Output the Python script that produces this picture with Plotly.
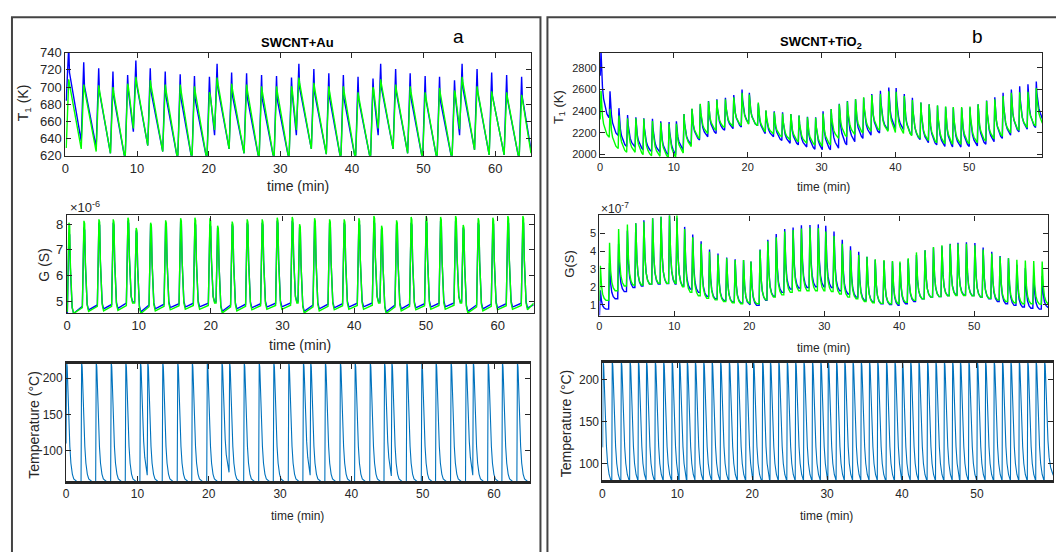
import plotly.graph_objects as go

# ---------------- data ----------------
# Panel a : SWCNT+Au  (time of each T1 peak, min)
AU_T_PEAK_TIME = [0.46, 2.55, 4.64, 6.63, 8.68, 9.83, 11.84, 13.93, 16.02, 18.01,
                  20.10, 21.17, 23.20, 25.29, 27.38, 29.47, 31.56, 32.59, 34.68, 36.77,
                  38.80, 40.85, 42.94, 44.01, 46.10, 48.13, 50.22, 52.23, 54.32, 55.38,
                  57.47, 59.51, 61.60, 63.69]
AU_T1_BLUE_PEAK = [748, 729, 722, 718, 714, 731, 722, 718, 715, 713,
                   712, 727, 717, 716, 714, 713, 711, 727, 721, 716,
                   714, 712, 710, 727, 721, 716, 713, 712, 708, 727,
                   721, 717, 714, 712]
AU_T1_GREEN_PEAK = [709, 703, 702, 700, 704, 712, 708, 703, 703, 701,
                    694, 711, 704, 703, 701, 701, 701, 711, 705, 701,
                    701, 694, 700, 709, 703, 701, 694, 699, 696, 712,
                    701, 695, 694, 691]
# value just before each rise (first = value at t=0, last = value at the right edge)
AU_T1_BLUE_PRE = [685, 637, 630, 623, 615, 648, 632, 625, 615, 615, 615, 644, 628, 623,
                  615, 615, 615, 644, 628, 622, 615, 615, 615, 644, 628, 623, 615, 615,
                  615, 644, 627, 621, 621, 615, 627]
AU_T1_GREEN_PRE = [630, 628, 625, 623, 615, 652, 632, 625, 615, 615, 615, 650, 628, 623,
                   615, 615, 615, 650, 628, 622, 615, 615, 615, 652, 628, 623, 615, 615,
                   615, 651, 627, 621, 621, 615, 623]

AU_G_BLUE_PEAK = [7.68, 7.87, 8.06, 8.06, 8.13, 7.75, 8.00, 8.03, 8.10, 8.06,
                  8.00, 7.85, 8.00, 8.06, 8.06, 8.13, 8.13, 7.87, 8.10, 8.06,
                  8.06, 8.06, 8.13, 7.81, 8.00, 8.06, 8.13, 8.13, 8.13, 7.87,
                  8.06, 8.10, 8.13, 8.15]
AU_G_GREEN_PEAK = [8.06, 8.13, 8.19, 8.19, 8.25, 7.85, 8.06, 8.15, 8.23, 8.25,
                   8.23, 7.94, 8.10, 8.19, 8.19, 8.25, 8.28, 8.00, 8.23, 8.19,
                   8.19, 8.23, 8.32, 7.94, 8.15, 8.28, 8.32, 8.28, 8.32, 7.97,
                   8.23, 8.25, 8.32, 8.32]
AU_G_BLUE_LOW = [4.52, 4.66, 4.70, 4.72, 4.97, 4.58, 4.70, 4.75, 4.77, 4.78,
                 4.97, 4.60, 4.70, 4.74, 4.77, 4.78, 4.97, 4.60, 4.70, 4.74,
                 4.77, 4.78, 4.97, 4.58, 4.70, 4.74, 4.77, 4.78, 4.97, 4.60,
                 4.70, 4.74, 4.77, 4.74]
AU_G_GREEN_LOW = [4.52, 4.60, 4.62, 4.64, 4.93, 4.52, 4.62, 4.66, 4.68, 4.68,
                  4.93, 4.54, 4.62, 4.66, 4.68, 4.68, 4.93, 4.54, 4.62, 4.66,
                  4.68, 4.68, 4.93, 4.52, 4.62, 4.66, 4.68, 4.68, 4.93, 4.54,
                  4.62, 4.66, 4.68, 4.66]
AU_G_BLUE_PRE = [4.55, 4.80, 4.85, 4.87, 4.92, 4.97, 4.85, 4.88, 4.90, 4.92, 4.92, 4.97,
                 4.85, 4.88, 4.90, 4.92, 4.93, 4.97, 4.85, 4.88, 4.90, 4.92, 4.93, 4.97,
                 4.85, 4.88, 4.90, 4.92, 4.93, 4.97, 4.85, 4.88, 4.90, 4.92, 4.85]
AU_G_GREEN_PRE = [4.60, 4.75, 4.80, 4.80, 4.83, 4.93, 4.78, 4.80, 4.82, 4.83, 4.83, 4.93,
                  4.78, 4.80, 4.82, 4.83, 4.84, 4.93, 4.78, 4.80, 4.82, 4.83, 4.84, 4.93,
                  4.78, 4.80, 4.82, 4.83, 4.84, 4.93, 4.78, 4.80, 4.82, 4.83, 4.92]

AU_TEMP_RISE = [0.0, 2.10, 4.15, 6.25, 8.30, 10.35, 11.38, 13.48, 15.58, 17.62,
                19.72, 21.78, 22.85, 24.90, 27.00, 29.05, 31.15, 33.20, 34.22, 36.28,
                38.38, 40.45, 42.57, 44.57, 45.60, 47.70, 49.80, 51.80, 53.90, 56.00,
                57.02, 59.10, 61.10, 63.20]
AU_TEMP_PRE = [110, 56, 56, 56, 56, 56, 66, 56, 56, 56, 56, 56, 70, 56, 56, 56, 56, 56,
               66, 56, 56, 56, 56, 56, 65, 56, 56, 56, 56, 56, 66, 56, 56, 56, 56]
AU_TEMP_MAX = 222

# Panel b : SWCNT+TiO2
TI_PEAK_TIME = [0.13, 1.35, 2.56, 3.73, 4.85, 5.93, 7.10, 8.22, 9.35, 10.34,
                11.37, 12.45, 13.57, 14.69, 15.82, 16.98, 18.11, 19.23, 20.22, 21.43,
                22.47, 23.59, 24.72, 25.84, 26.95, 28.09, 29.20, 30.20, 31.30, 32.40,
                33.50, 34.60, 35.70, 36.80, 37.97, 39.10, 40.10, 41.20, 42.30, 43.45,
                44.57, 45.70, 46.80, 47.84, 48.97, 50.10, 51.20, 52.35, 53.46, 54.58,
                55.70, 56.83, 57.95, 59.08]
TI_T1_BLUE_PEAK = [2960, 2584, 2429, 2366, 2345, 2336, 2330, 2308, 2300, 2308,
                   2375, 2420, 2465, 2495, 2510, 2525, 2550, 2600, 2570, 2470,
                   2405, 2400, 2390, 2375, 2360, 2350, 2345, 2400, 2420, 2470,
                   2495, 2510, 2525, 2560, 2590, 2620, 2615, 2560, 2525, 2480,
                   2465, 2450, 2440, 2435, 2430, 2435, 2465, 2500, 2530, 2570,
                   2600, 2630, 2650, 2675]
TI_T1_GREEN_PEAK = [2590, 2420, 2360, 2336, 2336, 2330, 2310, 2295, 2285, 2285,
                    2375, 2426, 2470, 2490, 2505, 2510, 2530, 2570, 2555, 2480,
                    2410, 2390, 2380, 2375, 2360, 2345, 2340, 2380, 2420, 2465,
                    2490, 2512, 2530, 2550, 2560, 2585, 2580, 2540, 2505, 2480,
                    2465, 2455, 2445, 2440, 2440, 2445, 2465, 2495, 2510, 2540,
                    2570, 2575, 2580, 2615]
TI_T1_BLUE_PRE = [2734, 2345, 2180, 2075, 2069, 2045, 2030, 2020, 2000, 2000,
                  2045, 2090, 2135, 2165, 2195, 2225, 2240, 2255, 2285, 2270,
                  2195, 2165, 2130, 2105, 2090, 2070, 2050, 2045, 2045, 2060,
                  2090, 2120, 2150, 2180, 2200, 2225, 2235, 2230, 2180, 2140,
                  2110, 2090, 2075, 2070, 2070, 2075, 2080, 2095, 2120, 2150,
                  2180, 2210, 2235, 2250, 2330]
TI_T1_GREEN_PRE = [2330, 2165, 2060, 2022, 2022, 2000, 1990, 1985, 1975, 1975,
                   2015, 2075, 2150, 2195, 2225, 2250, 2260, 2270, 2280, 2270,
                   2210, 2190, 2165, 2135, 2120, 2105, 2090, 2075, 2090, 2150,
                   2165, 2185, 2200, 2215, 2225, 2215, 2205, 2195, 2175, 2150,
                   2130, 2110, 2100, 2095, 2095, 2100, 2110, 2125, 2145, 2170,
                   2200, 2225, 2250, 2265, 2290]

TI_G_BLUE_PEAK = [1.80, 3.33, 4.42, 5.15, 5.56, 5.73, 5.84, 5.93, 6.05, 5.87,
                  5.36, 4.93, 4.55, 4.09, 3.87, 3.64, 3.55, 3.50, 3.42, 4.09,
                  4.64, 4.96, 5.24, 5.33, 5.45, 5.47, 5.50, 5.42, 5.10, 4.64,
                  4.27, 3.96, 3.69, 3.51, 3.45, 3.42, 3.33, 3.55, 3.78, 4.05,
                  4.20, 4.27, 4.42, 4.47, 4.50, 4.45, 4.20, 3.96, 3.73, 3.60,
                  3.24, 3.05, 2.78, 2.60]
TI_G_GREEN_PEAK = [3.18, 4.47, 5.24, 5.50, 5.56, 5.65, 5.84, 5.93, 6.05, 6.05,
                   5.24, 4.78, 4.42, 3.96, 3.78, 3.60, 3.50, 3.50, 3.42, 4.05,
                   4.56, 4.78, 5.10, 5.18, 5.27, 5.33, 5.29, 5.10, 4.85, 4.42,
                   4.05, 3.78, 3.69, 3.55, 3.50, 3.45, 3.42, 3.60, 3.93, 4.05,
                   4.23, 4.33, 4.38, 4.42, 4.42, 4.33, 4.09, 3.87, 3.69, 3.60,
                   3.51, 3.47, 3.45, 3.42]
TI_G_BLUE_PRE = [0.40, 0.75, 1.33, 1.73, 1.96, 2.05, 2.15, 2.15, 2.18, 2.15,
                 2.05, 1.87, 1.69, 1.47, 1.33, 1.24, 1.15, 1.10, 1.00, 0.96,
                 1.24, 1.47, 1.69, 1.87, 1.93, 1.96, 2.00, 2.00, 1.96, 1.78,
                 1.60, 1.42, 1.24, 1.15, 1.05, 1.00, 0.96, 1.05, 1.18, 1.33,
                 1.42, 1.45, 1.51, 1.55, 1.55, 1.51, 1.42, 1.33, 1.18, 1.05,
                 0.96, 0.87, 0.80, 0.75, 0.85]
TI_G_GREEN_PRE = [1.20, 1.24, 1.78, 2.05, 2.10, 2.10, 2.15, 2.20, 2.20, 2.20,
                  2.00, 1.69, 1.50, 1.36, 1.27, 1.18, 1.11, 1.05, 1.05, 1.05,
                  1.27, 1.42, 1.55, 1.69, 1.78, 1.78, 1.78, 1.78, 1.74, 1.60,
                  1.42, 1.33, 1.18, 1.11, 1.07, 1.05, 1.05, 1.13, 1.24, 1.33,
                  1.42, 1.45, 1.49, 1.51, 1.51, 1.49, 1.42, 1.36, 1.27, 1.18,
                  1.11, 1.05, 1.05, 1.03, 1.05]
TI_TEMP_START = 120
TI_TEMP_MIN = 77
TI_TEMP_MAX = 222
TI_TEMP_END = 86

# ---------------- cycle shapes ----------------
# (offset after peak in min, fraction of the drop still remaining)
SHAPE_T1_AU_BLUE = ([0, 0.10], [1, 0.72])
SHAPE_T1_AU_GREEN = ([0, 0.10], [1, 0.93])
SHAPE_G_AU = ([0, 0.10, 0.20, 0.32, 0.45, 0.65], [1, 0.97, 0.55, 0.20, 0.07, 0])
SHAPE_TEMP = ([0, 0.08, 0.18, 0.30, 0.45, 0.60, 0.80, 1.0, 1.3, 1.6],
              [1, 0.96, 0.78, 0.52, 0.30, 0.16, 0.07, 0.03, 0.01, 0])
SHAPE_T1_TI = ([0, 0.08, 0.20, 0.35, 0.55, 0.80, 1.05], [1, 0.70, 0.45, 0.28, 0.15, 0.05, 0])
SHAPE_G_TI = ([0, 0.06, 0.15, 0.30, 0.50, 0.75], [1, 0.75, 0.42, 0.18, 0.06, 0])


def _v(v, i):
    return v[i] if isinstance(v, (list, tuple)) else v


def build(times, peaks, pre, rise, shape, t_end, low=None, shift=0.0):
    offs, fracs = shape
    n = len(times)
    xs, ys = [], []
    for i in range(n):
        tp = times[i] + shift
        t0 = tp - rise
        if i == 0 and t0 > 0:
            xs.append(0.0)
            ys.append(_v(pre, 0))
        xs.append(max(t0, 0.0))
        ys.append(_v(pre, i))
        pk = _v(peaks, i)
        xs.append(tp)
        ys.append(pk)
        t_next = times[i + 1] + shift - rise if i + 1 < n else t_end
        base = _v(low, i) if low is not None else _v(pre, i + 1)
        for o, f in zip(offs[1:], fracs[1:]):
            if tp + o < t_next:
                xs.append(tp + o)
                ys.append(base + f * (pk - base))
    xs.append(t_end)
    ys.append(_v(pre, n))
    return xs, ys


W, H = 1056, 552


def px(x):
    return x / W


def py(y):
    return 1 - y / H


BLUE = "#0000FF"
GREEN = "#00FF00"
TBLUE = "#0072BD"
AX = "#262626"
FONT = "Liberation Sans, Arial, sans-serif"

fig = go.Figure()


def add(xy, color, width, ax):
    fig.add_trace(go.Scatter(x=xy[0], y=xy[1], mode="lines",
                             line=dict(color=color, width=width),
                             xaxis="x" + ax, yaxis="y" + ax, hoverinfo="skip"))


# a1
add(build(AU_T_PEAK_TIME, AU_T1_BLUE_PEAK, AU_T1_BLUE_PRE, 0.35, SHAPE_T1_AU_BLUE, 65), BLUE, 1.4, "")
add(build(AU_T_PEAK_TIME, AU_T1_GREEN_PEAK, AU_T1_GREEN_PRE, 0.35, SHAPE_T1_AU_GREEN, 65), GREEN, 1.4, "")
# a2
add(build(AU_T_PEAK_TIME, AU_G_BLUE_PEAK, AU_G_BLUE_PRE, 0.22, SHAPE_G_AU, 65,
          low=AU_G_BLUE_LOW, shift=-0.2), BLUE, 1.4, "2")
add(build(AU_T_PEAK_TIME, AU_G_GREEN_PEAK, AU_G_GREEN_PRE, 0.22, SHAPE_G_AU, 65,
          low=AU_G_GREEN_LOW, shift=-0.2), GREEN, 1.4, "2")
# a3
add(build(AU_TEMP_RISE, AU_TEMP_MAX, AU_TEMP_PRE, 0.08, SHAPE_TEMP, 65, shift=0.08), TBLUE, 1.1, "3")
# b1
add(build(TI_PEAK_TIME, TI_T1_BLUE_PEAK, TI_T1_BLUE_PRE, 0.1, SHAPE_T1_TI, 59.9), BLUE, 1.4, "4")
add(build(TI_PEAK_TIME, TI_T1_GREEN_PEAK, TI_T1_GREEN_PRE, 0.1, SHAPE_T1_TI, 59.9), GREEN, 1.4, "4")
# b2
add(build(TI_PEAK_TIME, TI_G_BLUE_PEAK, TI_G_BLUE_PRE, 0.12, SHAPE_G_TI, 59.9), BLUE, 1.4, "5")
add(build(TI_PEAK_TIME, TI_G_GREEN_PEAK, TI_G_GREEN_PRE, 0.12, SHAPE_G_TI, 59.9), GREEN, 1.4, "5")
# b3
ti_temp_pre = [TI_TEMP_START] + [TI_TEMP_MIN] * (len(TI_PEAK_TIME) - 1) + [TI_TEMP_END]
add(build(TI_PEAK_TIME, TI_TEMP_MAX, ti_temp_pre, 0.06, SHAPE_TEMP, 60.2, shift=-0.04), TBLUE, 1.1, "6")


def xax(dom, rng, tv, fs, lw, anchor):
    return dict(domain=dom, range=rng, tickvals=tv, ticks="inside", ticklen=5, tickwidth=1,
                tickcolor=AX, showline=True, linecolor=AX, linewidth=lw, mirror="allticks",
                showgrid=False, zeroline=False, anchor=anchor,
                tickfont=dict(family=FONT, size=fs, color=AX))


XA = [0, 10, 20, 30, 40, 50, 60]
XB = [0, 10, 20, 30, 40, 50]
layout = dict(
    width=W, height=H, margin=dict(l=0, r=0, t=0, b=0),
    paper_bgcolor="white", plot_bgcolor="white", showlegend=False,
    xaxis=xax([px(61.7), px(529)], [0, 65], XA, 13, 1.3, "y"),
    yaxis=xax([py(153), py(47)], [620, 740], [620, 640, 660, 680, 700, 720, 740], 13, 1.3, "x"),
    xaxis2=xax([px(63.3), px(531.7)], [0, 65], XA, 13, 1.3, "y2"),
    yaxis2=xax([py(315), py(214.3)], [4.52, 8.34], [5, 6, 7, 8], 13, 1.3, "x2"),
    xaxis3=xax([px(62.3), px(527.7)], [0, 65], XA, 12, 2.6, "y3"),
    yaxis3=xax([py(487.3), py(366.7)], [58, 220], [100, 150, 200], 12, 1, "x3"),
    xaxis4=xax([px(598.3), px(1042.3)], [0, 59.9], XB, 11, 1.3, "y4"),
    yaxis4=xax([py(154.3), py(47.3)], [1977, 2938], [2000, 2200, 2400, 2600, 2800], 11, 1.3, "x4"),
    xaxis5=xax([px(597.7), px(1048.3)], [0, 59.9], XB, 11, 1.3, "y5"),
    yaxis5=xax([py(317.7), py(214.3)], [0.36, 6.0], [1, 2, 3, 4, 5], 11, 1.3, "x5"),
    xaxis6=xax([px(600.7), px(1053.3)], [0, 60.2], XB, 12, 2.6, "y6"),
    yaxis6=xax([py(486.7), py(365.7)], [80, 220], [100, 150, 200], 12, 1, "x6"),
)
fig.update_layout(**layout)

ann = []


def text(x, y, s, size, angle=0, color=AX, xanchor="center", bold=False):
    if bold:
        s = "<b>" + s + "</b>"
    ann.append(dict(x=px(x), y=py(y), xref="paper", yref="paper", text=s, showarrow=False,
                    textangle=angle, xanchor=xanchor, yanchor="middle",
                    font=dict(family=FONT, size=size, color=color)))


text(295, 36, "SWCNT+Au", 13, color="black", bold=True)
text(456, 30, "a", 19, color="black")
text(820, 36, "SWCNT+TiO<sub>2</sub>", 13, color="black", bold=True)
text(977, 30, "b", 19, color="black")

text(295, 184, "time (min)", 14)
text(297, 347, "time (min)", 14)
text(295, 523, "time (min)", 12)
text(823, 185, "time (min)", 12)
text(823, 351, "time (min)", 12)
text(826, 523, "time (min)", 12)

text(20, 98, "T<sub>1</sub> (K)", 14, angle=-90)
text(40, 265, "G (S)", 14, angle=-90)
text(30.5, 429, "Temperature (°C)", 14, angle=-90)
text(557, 103, "T<sub>1</sub> (K)", 13, angle=-90)
text(568, 264, "G(S)", 13, angle=-90)
text(565, 428, "Temperature (°C)", 14, angle=-90)

text(64, 206, "×10<sup>-6</sup>", 13, xanchor="left")
text(597, 207, "×10<sup>-7</sup>", 12, xanchor="left")

fig.update_layout(annotations=ann)

shapes = [
    dict(type="rect", xref="paper", yref="paper", x0=px(8), x1=px(538.5), y0=py(10.5), y1=py(600),
         line=dict(color="#444444", width=2), fillcolor="rgba(0,0,0,0)", layer="below"),
    dict(type="rect", xref="paper", yref="paper", x0=px(545.5), x1=px(1100), y0=py(10.5), y1=py(600),
         line=dict(color="#444444", width=2), fillcolor="rgba(0,0,0,0)", layer="below"),
]
fig.update_layout(shapes=shapes)

fig.write_html("out.html")
